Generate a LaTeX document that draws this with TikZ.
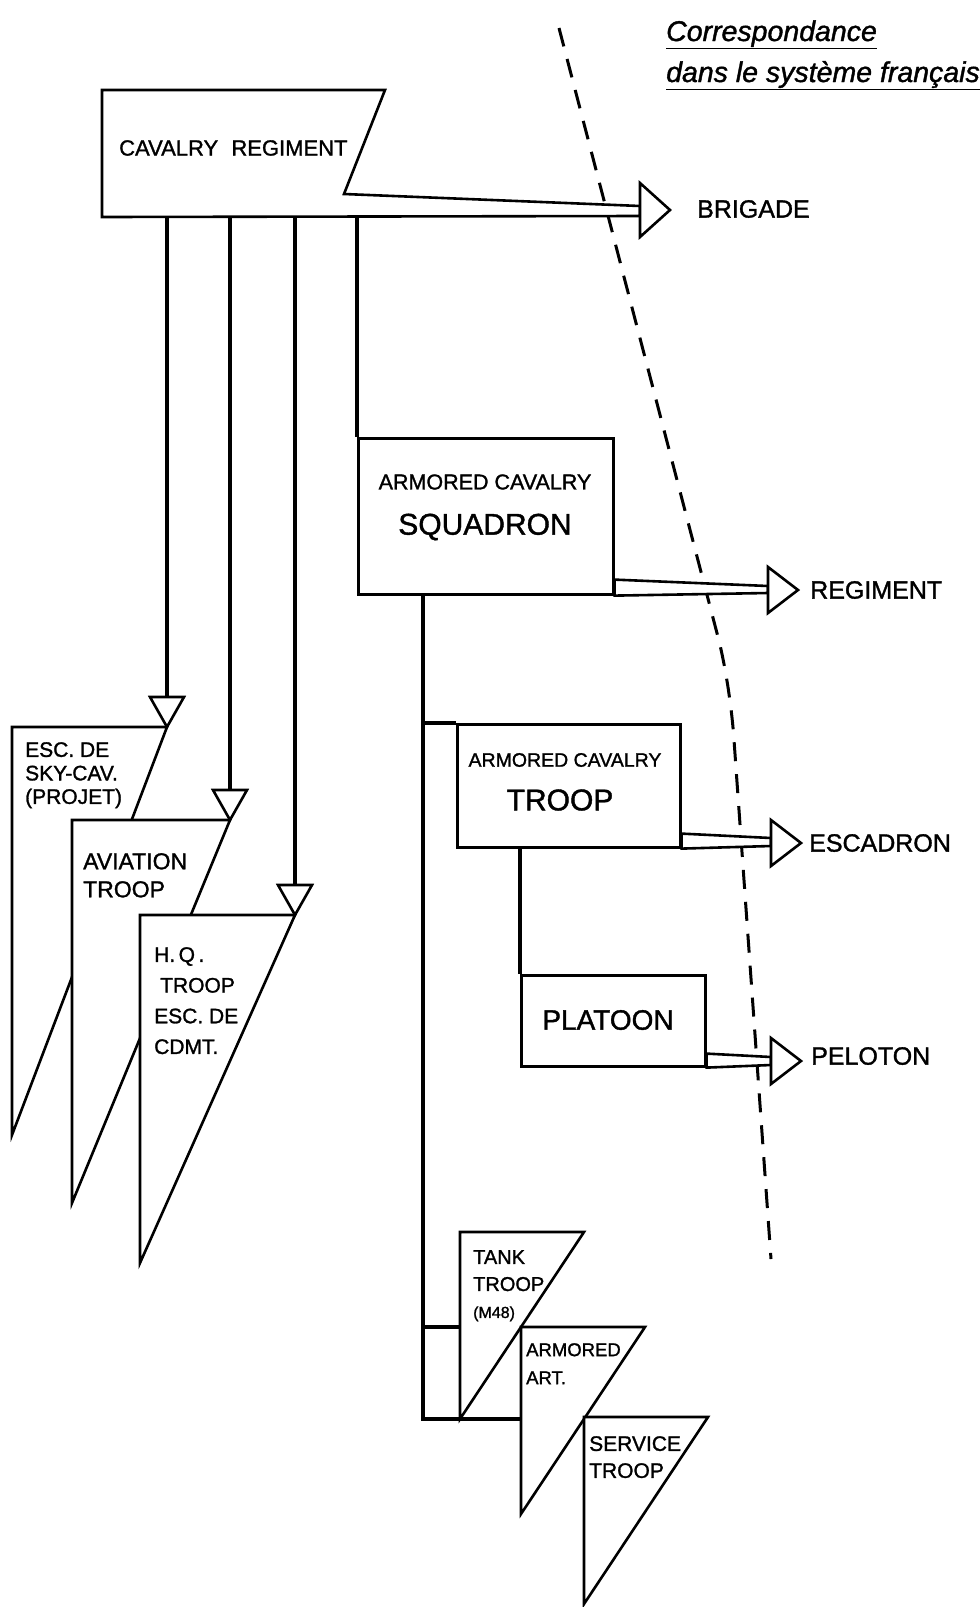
\documentclass[tikz,border=0pt]{standalone}
\usepackage{fontspec}
\setmainfont{Liberation Sans}[FakeBold=1.3]

\tikzset{
  trait/.style={line width=2.6pt},
  liaison/.style={line width=3.2pt},
  fanion/.style={trait, fill=white, line join=miter},
  pointe/.style={trait, fill=white},
  boite/.style={trait, draw, rectangle, inner sep=0pt, anchor=north west},
  txt/.style 2 args={inner sep=0pt, font=\fontsize{#1}{#2}\selectfont},
  titre/.style={inner sep=0pt, anchor=base west, font=\fontsize{28.5}{34}\selectfont\itshape},
}
\newcommand{\headright}[2][23]{\draw[pointe] (#2) ++(0,-#1) -- ++(30,#1) -- ++(-30,#1) -- cycle;}
\newcommand{\headdown}[1]{\draw[pointe] (#1) -- ++(-17,-30) -- ++(34,0) -- cycle;}

\begin{document}
\begin{tikzpicture}[x=1pt,y=-1pt]
  \path[fill=white, use as bounding box] (0,0) rectangle (980,1607);
  \node[titre] (corr) at (666,41) {\underline{Correspondance}};
  \node[titre] (sysfr) at (666,82) {\underline{dans le système français}};
  \draw[trait, line width=3pt, dash pattern=on 19pt off 13pt] (559,28) -- (718,637) .. controls (726,668) and (732,710) .. (734,740) -- (771,1259);

  \coordinate (brig) at (640,210);
  \draw[fanion] (102,90) -- (385,90) -- (344,194) -- ([yshift=4pt]brig) -- ([yshift=-6pt]brig) -- (102,217) coordinate (cavbot) -- cycle;
  \headright[27]{brig}
  \node[txt={22}{26}, anchor=west] (cav) at (119,148) {CAVALRY\hspace{.6em}REGIMENT};
  \node[txt={25}{30}, anchor=west] (brigade) at (697,209) {BRIGADE};

  \node[boite, minimum width=255pt, minimum height=156pt] (sqn) at (357,437) {};
  \coordinate (reg) at (768,590);
  \draw[fanion] ([yshift=16pt]sqn.south east) -- ([yshift=4pt]reg) -- ([yshift=-3pt]reg) -- (sqn.south east) -- cycle;
  \headright{reg}
  \node[txt={21.5}{26}] (sqn-a) at (485,482) {ARMORED CAVALRY};
  \node[txt={30}{36}] (sqn-b) at (485,527) {SQUADRON};
  \node[txt={25}{30}, anchor=west] (regiment) at (810,590) {REGIMENT};
  \draw[liaison] (sqn.north west |- cavbot) -- (sqn.north west);

  \node[boite, minimum width=223pt, minimum height=123pt] (trp) at (456,723) {};
  \coordinate (esca) at (771,843);
  \draw[fanion] ([yshift=15pt]trp.south east) -- ([yshift=5pt]esca) -- ([yshift=-3pt]esca) -- (trp.south east) -- cycle;
  \headright{esca}
  \node[txt={19.5}{24}] (trp-a) at (565,760) {ARMORED CAVALRY};
  \node[txt={30}{36}] (trp-b) at (560,800) {TROOP};
  \node[txt={25}{30}, anchor=west] (escadron) at (809,843) {ESCADRON};

  \node[boite, minimum width=184pt, minimum height=91pt] (plt) at (520,974) {};
  \coordinate (pel) at (771,1061);
  \draw[fanion] ([yshift=14pt]plt.south east) -- ([yshift=4pt]pel) -- ([yshift=-4pt]pel) -- (plt.south east) -- cycle;
  \headright{pel}
  \node[txt={28}{34}] (plt-a) at (608,1020) {PLATOON};
  \node[txt={25}{30}, anchor=west] (peloton) at (811,1056) {PELOTON};

  \coordinate (tronc) at (423,593);
  \draw[liaison] (tronc |- trp.north west) -- (trp.north west);
  \draw[liaison] (trp.south west -| plt.north west) -- (plt.north west);

  \foreach \n/\x/\y/\w/\h in {esc/12/727/155/408, avn/72/820/158/383, hq/140/915/155/348}{
    \draw[fanion] (\x,\y) coordinate (\n) -- ++(\w,0) coordinate (\n-c) -- ++(-\w,\h) -- cycle;
    \draw[liaison] (\n-c |- cavbot) -- ([yshift=30pt]\n-c);
    \headdown{\n-c}
  }
  \node[txt={21}{23.5}, align=left, anchor=north west] (esc-t) at (25,742) {ESC. DE\\SKY-CAV.\\(PROJET)};
  \node[txt={23}{28}, align=left, anchor=north west] (avn-t) at (83,853) {AVIATION\\TROOP};
  \node[txt={21}{30.7}, align=left, anchor=north west] (hq-t) at (154,947) {H.\,Q\,.\\\hspace{6pt}TROOP\\ESC. DE\\CDMT.};

  \foreach \n/\x/\y in {tank/460/1232, art/521/1327, srv/584/1417}
    \draw[fanion] (\x,\y) coordinate (\n) -- ++(124,0) -- ++(-124,187) coordinate (\n-b) -- cycle;
  \draw[liaison] (tronc) -- (tronc |- tank-b) -- (art |- tank-b);
  \draw[liaison] (tronc |- art) -- (tank |- art);
  \node[txt={20}{27}, align=left, anchor=north west] (tank-t) at (473,1250) {TANK\\TROOP\\{\fontsize{16}{27}\selectfont(M48)}};
  \node[txt={18.5}{28}, align=left, anchor=north west] (art-t) at (526,1343) {ARMORED\\ART.};
  \node[txt={21}{27}, align=left, anchor=north west] (srv-t) at (589,1436) {SERVICE\\TROOP};
\end{tikzpicture}
\end{document}
